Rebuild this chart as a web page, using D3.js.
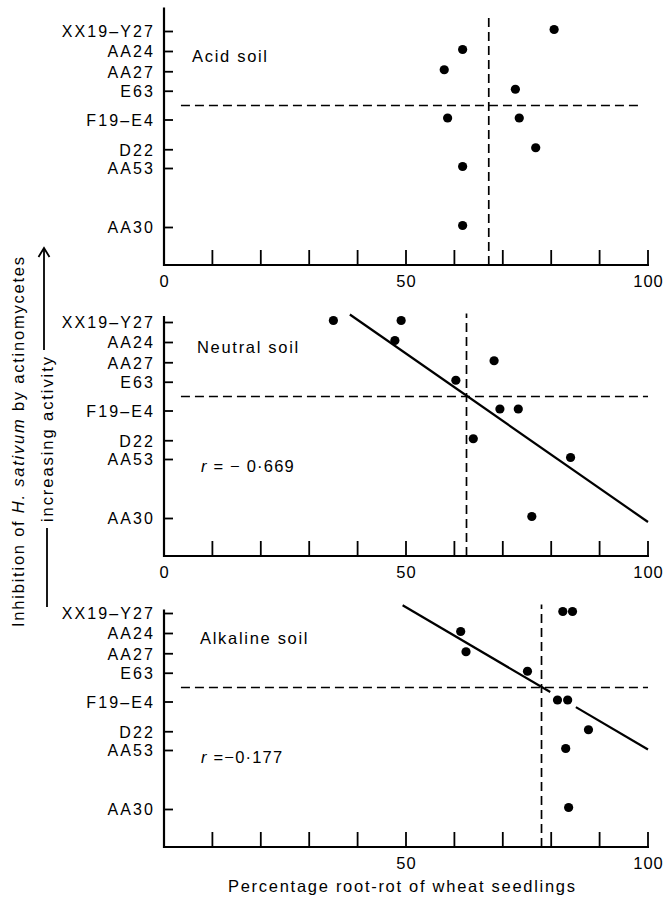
<!DOCTYPE html>
<html>
<head>
<meta charset="utf-8">
<script src="https://cdn.jsdelivr.net/npm/d3@7"></script>
<style>
  body { margin: 0; background: #fff; }
  svg { display: block; font-family: "Liberation Sans", Arial, sans-serif; }
</style>
</head>
<body>
<svg id="chart" width="667" height="900"></svg>
<script>
// strains on the y axis, ordered by inhibition activity (arbitrary units)
const strains = ['XX19–Y27', 'AA24', 'AA27', 'E63', 'F19–E4', 'D22', 'AA53', 'AA30'];
const activity = [93.4, 85.4, 77.3, 69.5, 58, 46.1, 38.6, 15];
const meanActivity = 63.8;

// percentage root-rot per strain, one array per soil
const acidStrain = ['XX19–Y27', 'AA24', 'AA27', 'E63', 'F19–E4', 'F19–E4', 'D22', 'AA53', 'AA30'];
const acidRot = [80.6, 61.7, 57.9, 72.6, 58.6, 73.4, 76.8, 61.7, 61.7];

const neutralStrain = ['XX19–Y27', 'XX19–Y27', 'AA24', 'AA27', 'E63', 'F19–E4', 'F19–E4', 'D22', 'AA53', 'AA30'];
const neutralRot = [35, 49, 47.7, 68.2, 60.3, 69.4, 73.2, 63.9, 84, 76];

const alkStrain = ['XX19–Y27', 'XX19–Y27', 'AA24', 'AA27', 'E63', 'F19–E4', 'F19–E4', 'D22', 'AA53', 'AA30'];
const alkRot = [82.4, 84.4, 61.3, 62.4, 75.1, 81.3, 83.4, 87.7, 83.0, 83.6];

const meanRot = [67.1, 62.5, 78];
// regression lines [rot, activity]
const neutralFit = [[38.4, 96.6], [100, 13.6]];
const alkFit = [[49.3, 96.7], [100, 39]];
const alkGap = [79.8, 85.1];

const xTicks = d3.range(10, 101, 10);

const panels = [
  { name: 'Acid soil', strain: acidStrain, rot: acidRot, mean: meanRot[0], base: 265, axisTop: 103, vTop: 100, hEnd: 98.5, labels: [0, 50, 100], nameX: 192 },
  { name: 'Neutral soil', strain: neutralStrain, rot: neutralRot, mean: meanRot[1], base: 556, axisTop: 96, vTop: 97, hEnd: 100, labels: [0, 50, 100], nameX: 197, r: '= − 0·669', fit: neutralFit },
  { name: 'Alkaline soil', strain: alkStrain, rot: alkRot, mean: meanRot[2], base: 847, axisTop: 95, vTop: 97, hEnd: 100, labels: [50, 100], nameX: 200, r: '=−0·177', fit: alkFit, gap: alkGap },
];

const svg = d3.select('#chart');
const x = d3.scaleLinear().domain([0, 100]).range([164, 648]);
const act = d3.scaleOrdinal().domain(strains).range(activity);

panels.forEach((p) => {
  const y = d3.scaleLinear().domain([0, 100]).range([p.base, p.base - 250]);
  const g = svg.append('g');

  // axes
  g.append('line')
    .attr('x1', x(0)).attr('x2', x(0))
    .attr('y1', y(0) + 1).attr('y2', y(p.axisTop))
    .attr('stroke', '#000').attr('stroke-width', 2.2);
  g.append('line')
    .attr('x1', x(0)).attr('x2', x(100) + 1)
    .attr('y1', y(0)).attr('y2', y(0))
    .attr('stroke', '#000').attr('stroke-width', 2.2);

  // x ticks point upwards
  g.selectAll('.xt').data(xTicks).join('line')
    .attr('x1', (d) => x(d)).attr('x2', (d) => x(d))
    .attr('y1', y(0)).attr('y2', y(0) - 15)
    .attr('stroke', '#000').attr('stroke-width', 1.8);
  g.selectAll('.xl').data(p.labels).join('text')
    .attr('x', (d) => x(d) + 0.5).attr('y', y(0) + 22)
    .attr('text-anchor', 'middle').attr('font-size', 16.5)
    .attr('letter-spacing', 1)
    .text((d) => d);

  // y ticks point right
  g.selectAll('.yt').data(strains).join('line')
    .attr('x1', x(0)).attr('x2', x(0) + 9)
    .attr('y1', (d) => y(act(d))).attr('y2', (d) => y(act(d)))
    .attr('stroke', '#000').attr('stroke-width', 1.8);
  g.selectAll('.yl').data(strains).join('text')
    .attr('x', 155).attr('y', (d) => y(act(d)))
    .attr('dy', '0.36em')
    .attr('text-anchor', 'end').attr('font-size', 16)
    .attr('letter-spacing', 2.1)
    .text((d) => d);

  // mean lines
  g.append('line')
    .attr('x1', x(3.5)).attr('x2', x(p.hEnd))
    .attr('y1', y(meanActivity)).attr('y2', y(meanActivity))
    .attr('stroke', '#000').attr('stroke-width', 1.7)
    .attr('stroke-dasharray', '9,5');
  g.append('line')
    .attr('x1', x(p.mean)).attr('x2', x(p.mean))
    .attr('y1', y(0)).attr('y2', y(p.vTop))
    .attr('stroke', '#000').attr('stroke-width', 1.7)
    .attr('stroke-dasharray', '9,5');

  // regression line
  if (p.fit) {
    const [a, b] = p.fit;
    const at = (r) => a[1] + (r - a[0]) * (b[1] - a[1]) / (b[0] - a[0]);
    const segs = p.gap
      ? [[a, [p.gap[0], at(p.gap[0])]], [[p.gap[1], at(p.gap[1])], b]]
      : [[a, b]];
    segs.forEach((s) => {
      g.append('path')
        .attr('d', d3.line().x((d) => x(d[0])).y((d) => y(d[1]))(s))
        .attr('stroke', '#000').attr('stroke-width', 2.2).attr('fill', 'none');
    });
  }

  // points
  g.selectAll('.pt').data(p.rot).join('circle')
    .attr('cx', (d) => x(d))
    .attr('cy', (d, i) => y(act(p.strain[i])) - 2)
    .attr('r', 4.6).attr('fill', '#000');

  // panel label
  g.append('text')
    .attr('x', p.nameX).attr('y', y(act('AA24')) + 10)
    .attr('font-size', 16.5).attr('letter-spacing', 1.7)
    .text(p.name);
  if (p.r) {
    const t = g.append('text')
      .attr('x', 201).attr('y', y(act('AA53')) + 12)
      .attr('font-size', 16.5).attr('letter-spacing', 1.2);
    t.append('tspan').attr('font-style', 'italic').text('r');
    t.append('tspan').text(' ' + p.r);
  }
});

// axis titles
svg.append('text')
  .attr('x', 228).attr('y', 892)
  .attr('font-size', 16.5)
  .attr('textLength', 347).attr('lengthAdjust', 'spacing')
  .text('Percentage root-rot of wheat seedlings');

const yt = svg.append('text')
  .attr('transform', 'translate(24,627) rotate(-90)')
  .attr('font-size', 16.5)
  .attr('textLength', 370).attr('lengthAdjust', 'spacing');
yt.append('tspan').text('Inhibition of ');
yt.append('tspan').attr('font-style', 'italic').text('H. sativum');
yt.append('tspan').text(' by actinomycetes');

svg.append('text')
  .attr('transform', 'translate(53,522) rotate(-90)')
  .attr('font-size', 16.5)
  .attr('textLength', 165).attr('lengthAdjust', 'spacing')
  .text('increasing activity');

// arrow beside the second title line
svg.append('line')
  .attr('x1', 47).attr('x2', 47).attr('y1', 607).attr('y2', 528)
  .attr('stroke', '#000').attr('stroke-width', 1.8);
svg.append('line')
  .attr('x1', 44).attr('x2', 44).attr('y1', 350).attr('y2', 249)
  .attr('stroke', '#000').attr('stroke-width', 1.8);
svg.append('path')
  .attr('d', 'M38.5,257 L44,248 L49.5,257')
  .attr('stroke', '#000').attr('stroke-width', 1.8).attr('fill', 'none');
</script>
</body>
</html>
